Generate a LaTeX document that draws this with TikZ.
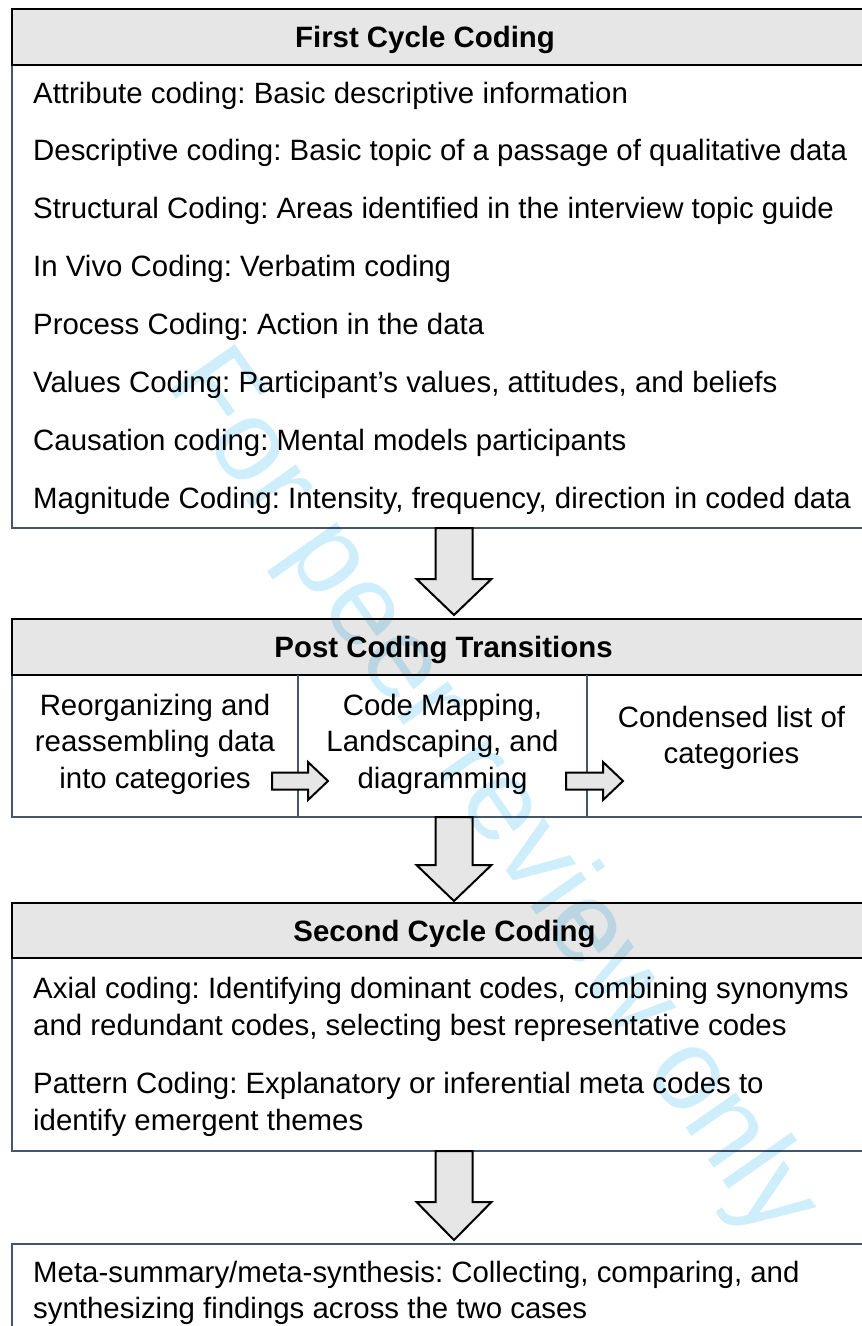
\documentclass[tikz,border=0pt]{standalone}
\usepackage{fontspec}
\setmainfont{Liberation Sans}
\usetikzlibrary{calc,positioning}
\frenchspacing

\definecolor{headgray}{RGB}{230,230,230}
\definecolor{boxslate}{RGB}{70,85,106}
\definecolor{markblue}{RGB}{207,238,251}

% block arrow: start, tip, shaft half width, head half width, head length
\newcommand{\blockarrow}[5]{%
  \coordinate (hb) at ($(#2)!#5!(#1)$);
  \draw[arrowbody] ($(#1)!#3!90:(#2)$) -- ($(hb)!#3!90:(#2)$) -- ($(hb)!#4!90:(#2)$) -- (#2)
    -- ($(hb)!#4!-90:(#2)$) -- ($(hb)!#3!-90:(#2)$) -- ($(#1)!#3!-90:(#2)$) -- cycle;}

\begin{document}
\begin{tikzpicture}[x=1pt,y=-1pt,font=\fontsize{29.4}{36.5}\selectfont,
	headbox/.style={draw=black,fill=headgray,line width=2.5pt,minimum width=865pt,minimum height=56pt,outer sep=0pt,inner sep=0pt},
	headtext/.style={anchor=base,inner sep=0pt,font=\fontsize{29.4}{36}\selectfont\bfseries},
	bodybox/.style={draw=boxslate,line width=2.5pt,minimum width=865pt,outer sep=0pt,inner sep=0pt,anchor=north west},
	bodyline/.style={anchor=base west,inner sep=0pt},
	coltext/.style={align=center,inner sep=0pt,font=\fontsize{29.4}{36.5}\selectfont},
	divider/.style={draw=boxslate,line width=2.5pt},
	arrowbody/.style={draw=black,fill=headgray,line width=2pt,line join=miter}]
	\useasboundingbox (0,0) rectangle (862,1326);
	\clip (0,0) rectangle (862,1326);
	% first cycle
	\node[bodybox,minimum height=463pt] (fcbody) at (12,65) {};
	\node[headbox,anchor=south west] (fchead) at (fcbody.north west) {};
	\node[headtext] (fctitle) at (425,47.5) {First Cycle Coding};
	\foreach \txt [count=\i from 0] in {Attribute coding: Basic descriptive information,
		Descriptive coding: Basic topic of a passage of qualitative data,
		Structural Coding: Areas identified in the interview topic guide,
		In Vivo Coding: Verbatim coding,
		Process Coding: Action in the data,
		{Values Coding: Participant’s values, attitudes, and beliefs},
		Causation coding: Mental models participants,
		{Magnitude Coding: Intensity, frequency, direction in coded data}}
	\node[bodyline] (fc\i) at (33,103+57.86*\i) {\txt};
	% post coding
	\node[bodybox,minimum height=142pt] (pcbody) at (12,675) {};
	\node[headbox,anchor=south west] (pchead) at (pcbody.north west) {};
	\node[headtext] (pctitle) at (443.5,657.5) {Post Coding Transitions};
	\foreach \dx in {298,587}
	\draw[divider] (\dx,0 |- pcbody.north) -- (\dx,0 |- pcbody.south);
	\node[coltext] (colA) at (155,744) {Reorganizing and\\reassembling data\\into categories};
	\node[coltext] (colB) at (442.5,744) {Code Mapping,\\Landscaping, and\\diagramming};
	\node[coltext] (colC) at (731.5,738) {Condensed list of\\categories};
	% second cycle
	\node[bodybox,minimum height=193pt] (scbody) at (12,958) {};
	\node[headbox,anchor=south west,minimum height=55pt] (schead) at (scbody.north west) {};
	\node[headtext] (sctitle) at (444.5,941) {Second Cycle Coding};
	\node[bodyline] (sc1) at (33,998.5) {Axial coding: Identifying dominant codes, combining synonyms};
	\node[bodyline] (sc2) at (33,1035) {and redundant codes, selecting best representative codes};
	\node[bodyline] (sc3) at (33,1093.5) {Pattern Coding: Explanatory or inferential meta codes to};
	\node[bodyline] (sc4) at (33,1130) {identify emergent themes};
	% meta
	\node[bodybox,minimum height=200pt] (metabox) at (12,1244) {};
	\node[bodyline] (mt1) at (33,1282.5) {Meta-summary/meta-synthesis: Collecting, comparing, and};
	\node[bodyline] (mt2) at (33,1318) {synthesizing findings across the two cases};
	% arrows
	\coordinate (a1s) at ($(fcbody.south)+(9.5,0)$);
	\coordinate (a1t) at ($(pchead.north)+(9.5,-4)$);
	\coordinate (a2s) at ($(pcbody.south)+(9.5,0)$);
	\coordinate (a2t) at ($(schead.north)+(9.5,-2)$);
	\coordinate (a3s) at ($(scbody.south)+(9.5,0)$);
	\coordinate (a3t) at ($(metabox.north)+(9.5,-4)$);
	\blockarrow{a1s}{a1t}{18.5pt}{37.5pt}{36pt}
	\blockarrow{a2s}{a2t}{18.5pt}{37.5pt}{36pt}
	\blockarrow{a3s}{a3t}{18.5pt}{37.5pt}{38pt}
	\coordinate (b1s) at (272,781);
	\coordinate (b1t) at (328,781);
	\coordinate (b2s) at (566,781);
	\coordinate (b2t) at (623,781);
	\blockarrow{b1s}{b1t}{8.5pt}{19pt}{20pt}
	\blockarrow{b2s}{b2t}{8.5pt}{19pt}{20pt}
	% watermark
	\begin{scope}[blend mode=multiply]
	\node[text=markblue,rotate=-55,font=\fontsize{116}{116}\selectfont] (mark) at (490,796) {For peer review only};
	\end{scope}
\end{tikzpicture}
\end{document}
